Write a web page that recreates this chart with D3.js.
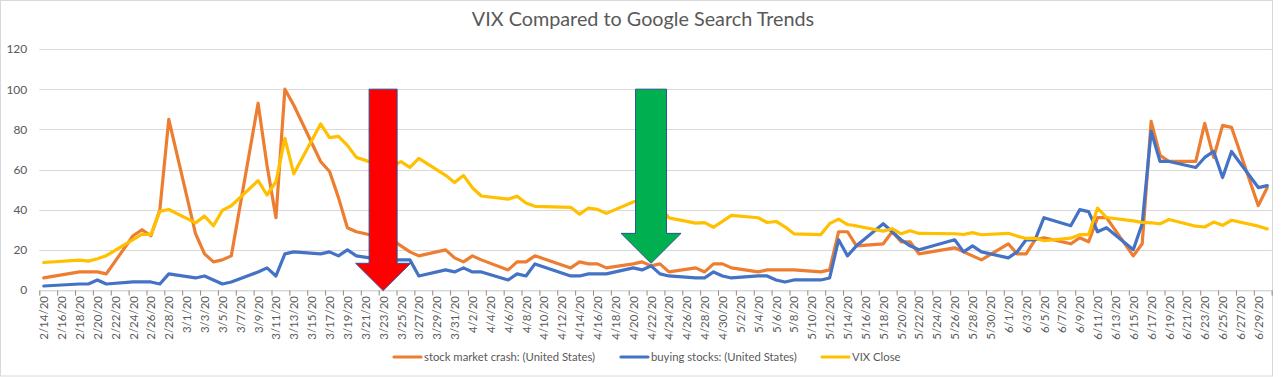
<!DOCTYPE html>
<html><head><meta charset="utf-8">
<script src="https://cdn.jsdelivr.net/npm/d3@7"></script>
<style>
html,body{margin:0;padding:0;background:#fff;}
svg{display:block;font-family:Lato,"Liberation Sans",sans-serif;}
</style></head>
<body><svg id="chart" width="1286" height="377"></svg>
<script>
const dates = ["2/14/20","2/18/20","2/19/20","2/20/20","2/21/20","2/24/20","2/25/20","2/26/20","2/27/20","2/28/20",
"3/2/20","3/3/20","3/4/20","3/5/20","3/6/20","3/9/20","3/10/20","3/11/20","3/12/20","3/13/20","3/16/20","3/17/20","3/18/20","3/19/20","3/20/20","3/23/20","3/24/20","3/25/20","3/26/20","3/27/20","3/30/20","3/31/20",
"4/1/20","4/2/20","4/3/20","4/6/20","4/7/20","4/8/20","4/9/20","4/13/20","4/14/20","4/15/20","4/16/20","4/17/20","4/20/20","4/21/20","4/22/20","4/23/20","4/24/20","4/27/20","4/28/20","4/29/20","4/30/20",
"5/1/20","5/4/20","5/5/20","5/6/20","5/7/20","5/8/20","5/11/20","5/12/20","5/13/20","5/14/20","5/15/20","5/18/20","5/19/20","5/20/20","5/21/20","5/22/20","5/26/20","5/27/20","5/28/20","5/29/20",
"6/1/20","6/2/20","6/3/20","6/4/20","6/5/20","6/8/20","6/9/20","6/10/20","6/11/20","6/12/20","6/15/20","6/16/20","6/17/20","6/18/20","6/19/20","6/22/20","6/23/20","6/24/20","6/25/20","6/26/20","6/29/20","6/30/20"];

const stockMarketCrash = [6,9,9,9,8,27,30,27,40,85,
28,18,14,15,17,93,62,36,100,92,64,59,46,31,29,26,25,22,19,17,20,16,
14,17,15,10,14,14,17,11,14,13,13,11,13,14,12,13,9,11,9,13,13,
11,9,10,10,10,10,9,10,29,29,22,23,29,24,24,18,21,19,17,15,
23,18,18,25,26,23,26,24,36,36,17,23,84,67,64,64,83,66,82,81,42,51];

const buyingStocks = [2,3,3,5,3,4,4,4,3,8,
6,7,5,3,4,9,11,7,18,19,18,19,17,20,17,15,15,15,15,7,10,9,
11,9,9,5,8,7,13,7,7,8,8,8,11,10,12,8,7,6,6,9,7,
6,7,7,5,4,5,5,6,25,17,22,33,29,25,22,20,25,19,22,19,
16,19,25,25,36,32,40,39,29,31,20,33,79,64,64,61,66,69,56,69,51,52];

const vixClose = [13.68,14.83,14.38,15.56,17.08,25.03,27.85,27.56,39.16,40.11,
33.42,36.82,31.99,39.62,41.94,54.46,47.30,53.90,75.47,57.83,82.69,75.91,76.45,72.00,66.04,61.59,61.67,63.95,61.00,65.54,57.08,53.54,
57.06,50.91,46.80,45.24,46.70,43.35,41.67,41.17,37.76,40.84,40.11,38.15,43.83,45.41,41.98,41.38,35.93,33.29,33.57,31.23,34.15,
37.19,35.97,33.61,34.12,31.44,27.98,27.57,33.04,35.28,32.61,31.89,29.30,30.53,27.99,29.53,28.16,28.01,27.62,28.59,27.51,
28.23,26.84,25.66,25.81,24.52,25.81,27.57,27.57,40.79,36.09,34.40,33.67,33.47,32.94,35.12,31.77,31.37,33.84,32.22,34.73,31.78,30.43];

const seriesNames = ["stock market crash: (United States)","buying stocks: (United States)","VIX Close"];
const yTicks = [0,20,40,60,80,100,120];
const axisStart = "2/14/20", axisEnd = "6/30/20";
const titleText = "VIX Compared to Google Search Trends";
// annotation arrows: date, top value, tip value, head-start value
const arrowDates = ["3/23/20","4/22/20"];
const arrowTop = [100,100];
const arrowTip = [-0.3,13.3];
const arrowHead = [13.3,28.2];

const colors = ["#ED7D31","#4472C4","#FFC000"];
const arrowColors = ["#FF0000","#00B050"];
const arrowBody = [28,31], arrowHeadW = [55,60];

const DAY = 86400000;
const parse = s => { const [m,d,yy] = s.split("/").map(Number); return new Date(Date.UTC(2000+yy, m-1, d)); };
const fmt = d => `${d.getUTCMonth()+1}/${d.getUTCDate()}/20`;

const svg = d3.select("#chart");
const pLeft = 39.3, pRight = 1271.7, pTop = 49, pBottom = 290;

// chart frame
svg.append("rect").attr("x",0.5).attr("y",0.5).attr("width",1272).attr("height",375.5)
  .attr("fill","#fff").attr("stroke","#d9d9d9").attr("stroke-width",1);

const t0 = parse(axisStart), t1 = parse(axisEnd);
const x = d3.scaleUtc().domain([new Date(+t0 - DAY/2), new Date(+t1 + DAY/2)]).range([pLeft, pRight]);
const y = d3.scaleLinear().domain([0,120]).range([pBottom, pTop]);

// gridlines
svg.append("g").selectAll("line").data(yTicks).join("line")
  .attr("x1",pLeft).attr("x2",pRight).attr("y1",d=>Math.round(y(d))+0.5).attr("y2",d=>Math.round(y(d))+0.5)
  .attr("stroke","#d9d9d9").attr("stroke-width",1);

// y labels
const yAxis = d3.axisLeft(y).tickValues(yTicks).tickSize(0).tickPadding(0);
const gy = svg.append("g").attr("transform",`translate(${pLeft-12},0)`).call(yAxis);
gy.select(".domain").remove();
gy.selectAll("text").attr("fill","#595959").style("font-size","12px").style("font-family","Lato,'Liberation Sans',sans-serif");

// x tick marks at slot boundaries, every 2 days
const boundaries = [];
for (let t = +t0 - DAY/2; t <= +t1 + DAY/2 + 1; t += 2*DAY) boundaries.push(new Date(t));
const xTickAxis = d3.axisBottom(x).tickValues(boundaries).tickSize(5).tickFormat("");
const gx = svg.append("g").attr("transform",`translate(0,${Math.round(pBottom)+0.5})`).call(xTickAxis);
gx.select(".domain").attr("stroke","#d9d9d9");
gx.selectAll(".tick line").attr("stroke","#8c8c8c");

// x labels every 2 days
const labelDates = [];
for (let t = +t0; t <= +t1; t += 2*DAY) labelDates.push(new Date(t));
const xLabelAxis = d3.axisBottom(x).tickValues(labelDates).tickSize(0).tickFormat(fmt);
const gl = svg.append("g").attr("transform",`translate(0,${pBottom})`).call(xLabelAxis);
gl.select(".domain").remove();
gl.selectAll("text")
  .attr("fill","#595959").style("font-size","11.5px").style("font-family","Lato,'Liberation Sans',sans-serif")
  .attr("text-anchor","end").attr("transform","rotate(-90)")
  .attr("x",-6).attr("y",0).attr("dy","0.35em");

// lines
const allSeries = [stockMarketCrash, buyingStocks, vixClose];
const parsedDates = dates.map(parse);
const line = d3.line().x((d,i)=>x(parsedDates[i])).y(d=>y(d));
allSeries.forEach((vals,k)=>{
  svg.append("path").datum(vals).attr("d",line).attr("fill","none")
    .attr("stroke",colors[k]).attr("stroke-width",3.2).attr("stroke-linejoin","round").attr("stroke-linecap","round");
});

// arrows
arrowDates.forEach((ds,i)=>{
  const cx = x(parse(ds)), bw = arrowBody[i]/2, hw = arrowHeadW[i]/2;
  const yT = y(arrowTop[i]), yH = y(arrowHead[i]), yP = y(arrowTip[i]);
  const pts = [[cx-bw,yT],[cx+bw,yT],[cx+bw,yH],[cx+hw,yH],[cx,yP],[cx-hw,yH],[cx-bw,yH]];
  svg.append("polygon").attr("points",pts.map(p=>p.join(",")).join(" "))
    .attr("fill",arrowColors[i]).attr("stroke","#2F528F").attr("stroke-width",1);
});

// title
svg.append("text").attr("x",643).attr("y",26).attr("text-anchor","middle")
  .attr("fill","#595959").style("font-size","19.8px").text(titleText);

// legend
const legendX = [394,621,822], legendY = 357;
seriesNames.forEach((n,k)=>{
  svg.append("line").attr("x1",legendX[k]).attr("x2",legendX[k]+27).attr("y1",legendY).attr("y2",legendY)
    .attr("stroke",colors[k]).attr("stroke-width",3.2).attr("stroke-linecap","round");
  svg.append("text").attr("x",legendX[k]+30).attr("y",legendY).attr("dy","0.35em")
    .attr("fill","#595959").style("font-size","11.3px").text(n);
});
</script></body></html>
